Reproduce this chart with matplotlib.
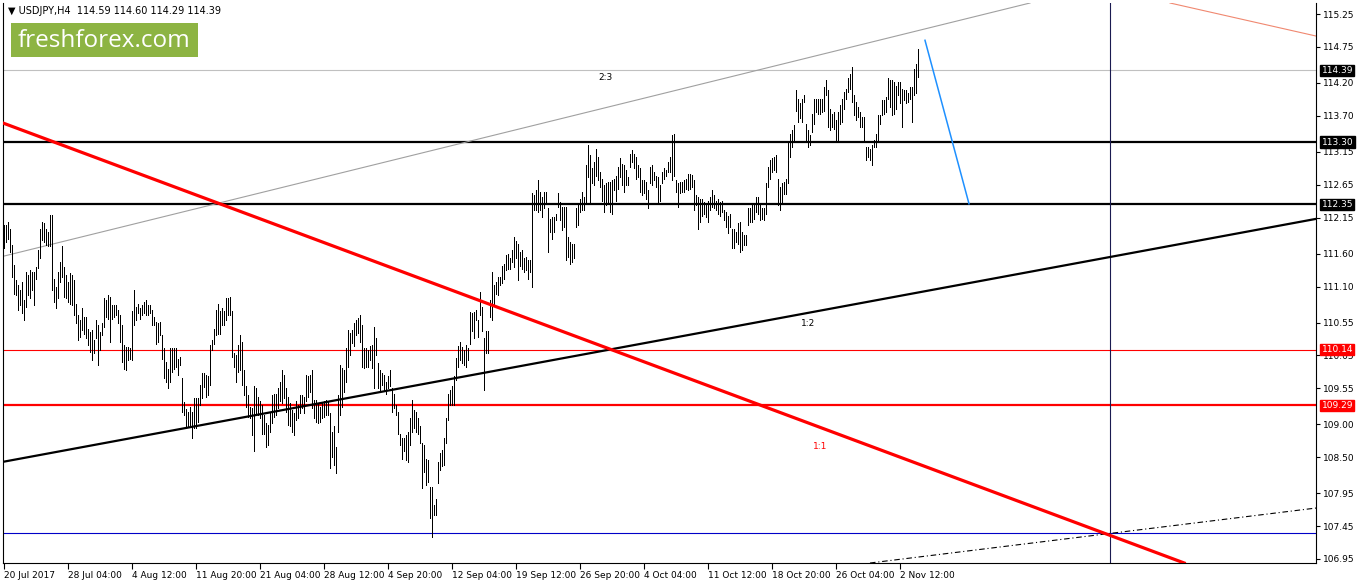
import matplotlib
matplotlib.use('Agg')
import matplotlib.pyplot as plt
from matplotlib.patches import Rectangle

# ---- OHLC bar ranges (H4 bars) ----
highs = [
112.04,112.04,112.09,111.98,111.73,111.43,111.20,111.12,111.05,111.17,
110.89,111.32,111.27,111.35,111.32,111.32,111.40,111.65,111.98,112.09,
112.06,111.98,111.93,112.19,112.19,111.22,111.10,111.32,111.48,111.71,
111.40,111.27,111.17,111.30,111.27,111.20,110.84,110.66,110.59,110.77,
110.64,110.64,110.46,110.41,110.44,110.28,110.59,110.51,110.41,110.54,
110.92,110.89,110.97,110.94,110.82,110.82,110.82,110.74,110.66,110.51,
110.21,110.18,110.18,110.16,110.72,111.05,110.79,110.84,110.77,110.82,
110.87,110.89,110.82,110.82,110.74,110.64,110.56,110.54,110.56,110.36,
110.16,109.95,109.85,110.16,110.16,110.16,110.16,110.00,110.03,109.70,
109.34,109.24,109.19,109.27,109.19,109.40,109.40,109.40,109.60,109.78,
109.78,109.75,109.73,110.21,110.28,110.46,110.74,110.84,110.72,110.77,
110.72,110.92,110.92,110.94,
110.72,110.08,110.06,110.21,110.36,110.26,109.83,109.58,109.45,109.27,
109.25,109.58,109.55,109.42,109.35,109.30,109.14,109.02,108.99,109.17,
109.45,109.47,109.47,109.55,109.65,109.83,109.75,109.55,109.42,109.32,
109.22,109.17,109.35,109.30,109.45,109.45,109.42,109.75,109.73,109.75,
109.83,109.37,109.37,109.32,109.27,109.32,109.35,109.37,109.35,109.17,
108.89,108.97,108.66,109.45,109.91,109.86,109.83,110.16,110.44,110.39,
110.44,110.54,110.59,110.62,110.67,110.52,110.16,110.16,110.13,110.19,
110.21,110.49,110.31,109.93,109.83,109.78,109.75,109.65,109.73,109.83,
109.55,109.47,109.30,109.19,108.86,108.79,108.79,108.84,108.89,109.09,
109.37,109.22,109.19,109.09,108.97,108.71,108.69,108.48,108.46,108.05,
108.05,107.77,107.87,108.43,108.56,108.61,108.79,109.09,109.47,109.53,
109.58,109.73,110.01,110.19,110.26,
110.18,110.13,110.21,110.16,110.71,110.69,110.71,110.74,110.59,111.02,
110.79,110.31,110.43,110.43,110.89,111.32,111.12,111.17,111.25,111.25,
111.42,111.45,111.58,111.60,111.53,111.65,111.86,111.80,111.75,111.63,
111.65,111.53,111.55,111.50,111.50,112.52,112.49,112.57,112.72,112.54,
112.46,112.54,112.54,112.29,112.13,112.16,112.16,112.21,112.52,112.39,
112.31,112.31,112.31,111.86,111.78,111.75,111.75,112.29,112.36,112.44,
112.54,112.46,112.95,113.25,113.10,112.90,113.00,113.20,113.07,112.85,
112.74,112.64,112.67,112.69,112.69,112.72,112.74,112.79,112.92,113.05,
112.97,112.95,112.87,112.77,113.12,113.18,113.12,113.07,112.95,112.90,
112.72,112.72,112.69,112.57,112.92,112.95,112.85,112.79,112.77,112.64,
112.85,112.90,112.87,113.00,113.07,113.40,113.43,112.72,112.67,112.69,
112.69,112.72,112.74,112.82,
112.82,112.80,112.72,112.49,112.46,112.44,112.44,112.39,112.36,112.41,
112.46,112.57,112.49,112.41,112.44,112.39,112.41,112.26,112.24,112.18,
112.21,111.98,111.98,111.93,112.06,112.08,111.93,111.88,111.88,112.29,
112.29,112.36,112.34,112.46,112.46,112.36,112.29,112.29,112.67,112.92,
113.02,113.05,113.07,113.10,112.74,112.62,112.67,112.69,112.74,113.30,
113.43,113.48,113.56,114.09,113.96,113.89,113.96,114.01,113.58,113.48,
113.40,113.73,113.96,113.96,113.96,113.96,113.96,114.14,114.24,114.09,
113.81,113.73,113.76,113.63,113.76,113.86,113.96,114.06,114.11,114.27,
114.34,114.44,114.01,113.91,113.83,113.76,113.68,113.68,113.23,113.23,
113.20,113.25,113.33,113.43,113.71,113.71,113.94,113.94,113.99,114.27,
114.24,114.24,114.22,114.16,114.22,114.22,114.11,114.09,114.09,114.04,
114.14,114.14,114.42,114.49,114.72,
]
lows = [
111.68,111.78,111.83,111.63,111.25,110.99,110.97,110.74,110.82,110.69,
110.59,110.79,110.97,110.92,111.05,110.82,111.22,111.38,111.53,111.81,
111.78,111.73,111.71,111.71,111.05,110.87,110.77,110.92,111.17,111.25,
110.94,110.92,110.87,110.84,110.82,110.66,110.54,110.28,110.33,110.44,
110.38,110.31,110.21,110.11,109.98,110.08,110.31,109.90,110.13,110.36,
110.49,110.64,110.61,110.26,110.61,110.64,110.66,110.54,110.26,109.95,
109.85,109.83,109.98,110.00,109.98,110.51,110.59,110.69,110.61,110.66,
110.69,110.66,110.66,110.69,110.51,110.51,110.23,110.26,110.36,110.00,
109.70,109.65,109.55,109.65,109.80,109.85,109.88,109.75,109.90,109.19,
109.14,108.96,108.96,108.99,108.79,108.94,108.94,109.04,109.30,109.40,
109.57,109.42,109.45,109.60,110.13,110.23,110.36,110.38,110.38,110.51,
110.51,110.59,110.66,110.66,
110.03,109.88,109.65,109.80,109.83,109.60,109.45,109.27,109.12,109.09,
108.84,108.59,109.14,109.14,109.09,108.86,108.86,108.66,108.69,108.89,
109.02,109.12,109.14,109.25,109.35,109.32,109.40,109.19,108.99,108.97,
108.89,108.84,109.07,109.09,109.17,109.25,109.17,109.35,109.42,109.50,
109.25,109.09,109.04,109.02,109.04,109.09,109.12,109.14,109.14,108.33,
108.51,108.38,108.26,108.89,109.14,109.27,109.50,109.65,109.88,110.06,
110.24,110.19,110.36,110.39,110.26,109.88,109.86,109.88,109.88,109.98,
109.86,109.55,110.06,109.55,109.50,109.60,109.53,109.47,109.55,109.58,
109.19,109.25,109.14,108.86,108.69,108.48,108.59,108.46,108.43,108.69,
108.89,108.94,108.89,108.86,108.71,108.03,108.28,108.08,108.13,107.57,
107.29,107.62,107.62,108.10,108.31,108.36,108.38,108.71,109.07,109.30,
109.30,109.30,109.68,109.88,109.98,
109.93,109.90,109.88,109.98,110.23,110.43,110.31,110.59,110.33,110.66,
110.43,109.52,110.08,110.08,110.64,110.59,110.84,110.99,110.97,111.12,
111.15,111.22,111.35,111.37,111.37,111.47,111.40,111.53,111.20,111.42,
111.37,111.32,111.35,111.22,111.32,111.09,112.26,112.26,112.24,112.26,
112.16,112.29,112.36,111.63,111.93,111.83,111.93,112.11,112.31,112.11,
111.96,112.01,111.50,111.55,111.45,111.47,111.53,112.01,112.03,112.24,
112.26,112.26,112.39,112.77,112.39,112.67,112.64,112.79,112.72,112.62,
112.41,112.24,112.34,112.36,112.24,112.21,112.57,112.41,112.59,112.77,
112.64,112.54,112.64,112.64,112.92,113.00,112.90,112.74,112.77,112.54,
112.49,112.52,112.44,112.29,112.67,112.64,112.72,112.62,112.39,112.41,
112.67,112.74,112.79,112.85,112.85,112.72,112.79,112.54,112.31,112.52,
112.54,112.54,112.59,112.57,
112.59,112.62,112.26,112.34,111.98,112.08,112.18,112.21,112.16,112.08,
112.26,112.31,112.29,112.26,112.21,112.18,112.24,112.11,112.01,111.91,
112.01,111.68,111.68,111.78,111.75,111.63,111.65,111.73,111.73,112.03,
112.08,112.08,112.13,112.24,112.21,112.11,112.13,112.11,112.21,112.62,
112.74,112.85,112.87,112.85,112.34,112.26,112.39,112.51,112.51,112.67,
113.07,113.23,113.30,113.78,113.61,113.66,113.61,113.91,113.30,113.23,
113.25,113.45,113.58,113.76,113.73,113.73,113.76,113.78,114.01,113.53,
113.48,113.53,113.50,113.33,113.33,113.58,113.61,113.81,113.96,114.06,
114.11,113.91,113.71,113.63,113.68,113.53,113.53,113.33,113.02,113.07,
113.02,112.95,113.23,113.23,113.33,113.58,113.71,113.73,113.76,113.96,
113.83,113.71,113.73,113.81,114.01,113.89,113.53,113.94,113.89,113.91,
113.96,113.61,114.01,114.04,114.29,
]

x_labels = ['20 Jul 2017', '28 Jul 04:00', '4 Aug 12:00', '11 Aug 20:00', '21 Aug 04:00',
            '28 Aug 12:00', '4 Sep 20:00', '12 Sep 04:00', '19 Sep 12:00', '26 Sep 20:00',
            '4 Oct 04:00', '11 Oct 12:00', '18 Oct 20:00', '26 Oct 04:00', '2 Nov 12:00']
x_label_idx = [0, 32, 64, 96, 128, 160, 192, 224, 256, 288, 320, 352, 384, 416, 448]
y_ticks = [115.25, 114.75, 114.20, 113.70, 113.15, 112.65, 112.15, 111.60, 111.10,
           110.55, 110.05, 109.55, 109.00, 108.50, 107.95, 107.45, 106.95]

# horizontal levels
level_last = 114.39
levels_black = [113.30, 112.35]
level_red_thin = 110.14
level_red_thick = 109.29
level_blue = 107.35
vline_idx = 553

# trend lines (two anchor points each: bar index, price)
red_trend = [(-0.5, 113.59), (553, 107.31)]
black_trend = [(-0.5, 108.43), (656, 112.13)]
gray_trend = [(-0.5, 111.56), (513, 115.418)]
salmon_trend = [(583, 115.418), (656, 114.915)]
dashdot_trend = [(433, 106.889), (656, 107.726)]
forecast = [(460.5, 114.85), (482.5, 112.36)]

W, H = 1358, 584
fig = plt.figure(figsize=(W / 100, H / 100), dpi=100)
ax = fig.add_axes([3 / W, 21 / H, 1313 / W, 560 / H])
ax.set_xlim(-0.5, 656)
ax.set_ylim(106.889, 115.418)

# levels
ax.axhline(level_last, color='#c0c0c0', lw=0.8, zorder=1)
for lv in levels_black:
    ax.axhline(lv, color='black', lw=1.6, zorder=1)
ax.axhline(level_red_thin, color='#ff0000', lw=0.8, zorder=1)
ax.axhline(level_red_thick, color='#ff0000', lw=1.6, zorder=1)
ax.axhline(level_blue, color='#0000c8', lw=0.8, zorder=1)
ax.axvline(vline_idx, color='#1a1a50', lw=0.8, zorder=1)

# trend lines
ax.axline(*gray_trend, color='#a0a0a0', lw=0.8, zorder=1)
ax.axline(*salmon_trend, color='#f08870', lw=0.8, zorder=1)
ax.axline(*dashdot_trend, color='black', lw=0.8, dashes=(5, 2.5, 1, 2.5), zorder=1)
ax.axline(*black_trend, color='black', lw=1.6, zorder=3)
ax.axline(*red_trend, color='#ff0000', lw=2.3, zorder=3)
ax.plot([p[0] for p in forecast], [p[1] for p in forecast], color='#1e90ff', lw=1.1, zorder=3)

# bars
idx = list(range(len(highs)))
ax.vlines(idx, lows, highs, colors='black', lw=0.72, antialiased=False, zorder=2)

# annotations
ax.text(300.5, 114.29, '2:3', fontsize=6.5, ha='center', va='center', color='black')
ax.text(402, 110.54, '1:2', fontsize=6.5, ha='center', va='center', color='black')
ax.text(408, 108.66, '1:1', fontsize=6.5, ha='center', va='center', color='#ff0000')

# axes styling
for s in ['left', 'right', 'bottom']:
    ax.spines[s].set_color('black')
    ax.spines[s].set_linewidth(0.8)
ax.spines['top'].set_visible(False)
ax.yaxis.tick_right()
ax.set_yticks(y_ticks)
ax.set_yticklabels([f'{v:.2f}' for v in y_ticks])
ax.tick_params(axis='y', direction='out', length=3, width=0.8, labelsize=6.5, pad=2)
ax.set_xticks(x_label_idx)
ax.set_xticklabels(x_labels, ha='left')
ax.tick_params(axis='x', direction='out', length=4, width=0.8, labelsize=6.5, pad=2)

# price boxes on the right axis
def price_box(val, fc):
    ax.annotate(f'{val:.2f}', xy=(1.0, val), xycoords=('axes fraction', 'data'),
                xytext=(4, 0), textcoords='offset points', ha='left', va='center',
                fontsize=6.5, color='white', annotation_clip=False,
                bbox=dict(boxstyle='square,pad=0.15', fc=fc, ec=fc), zorder=10)

price_box(level_last, 'black')
for lv in levels_black:
    price_box(lv, 'black')
price_box(level_red_thin, '#ff0000')
price_box(level_red_thick, '#ff0000')

# title & logo
fig.text(8 / W, 1 - 11 / H, '\u25BC USDJPY,H4  114.59 114.60 114.29 114.39', fontsize=7,
         ha='left', va='center', color='black')
fig.patches.append(Rectangle((11 / W, 1 - 57 / H), 187 / W, 34 / H, transform=fig.transFigure,
                             fc='#8db443', ec='none', zorder=5))
fig.text(104 / W, 1 - 41 / H, 'freshforex.com', fontsize=17.5, family='Open Sans',
         ha='center', va='center', color='white', zorder=6)

fig.savefig('out.png', dpi=100, facecolor='white')
